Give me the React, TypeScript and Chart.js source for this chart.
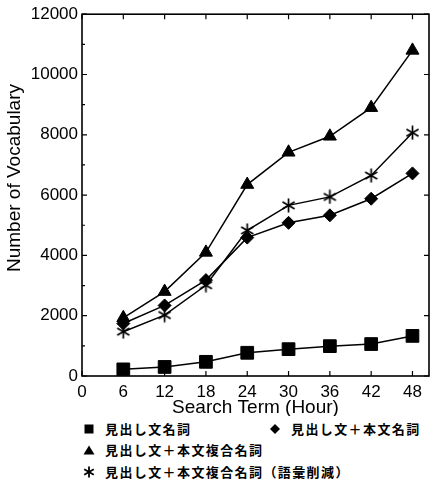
import React, { useEffect, useRef } from 'react';
import { Chart, registerables } from 'chart.js';
Chart.register(...registerables);

const hours = [6, 12, 18, 24, 30, 36, 42, 48];
const headNoun = [220, 300, 470, 770, 890, 990, 1060, 1330];
const headBodyNoun = [1740, 2340, 3180, 4590, 5080, 5330, 5880, 6720];
const headBodyCompound = [1930, 2800, 4100, 6350, 7420, 7950, 8900, 10800];
const headBodyCompoundReduced = [1470, 2020, 3010, 4830, 5660, 5940, 6650, 8070];
const seriesLabels = [
  '見出し文名詞',
  '見出し文＋本文名詞',
  '見出し文＋本文複合名詞',
  '見出し文＋本文複合名詞（語彙削減）',
];
const xTicks = [0, 6, 12, 18, 24, 30, 36, 42, 48];
const yTicks = [0, 2000, 4000, 6000, 8000, 10000, 12000];
const yMinorTicks = [1000, 3000, 5000, 7000, 9000, 11000];
const xTitle = 'Search Term (Hour)';
const yTitle = 'Number of Vocabulary';

const FONT = "'Liberation Sans', Arial, sans-serif";

function makeStar(size: number): HTMLCanvasElement {
  const c = document.createElement('canvas');
  c.width = size;
  c.height = size;
  const ctx = c.getContext('2d')!;
  const r = size / 2 - 0.5;
  const cx = size / 2;
  const cy = size / 2;
  ctx.strokeStyle = '#000';
  ctx.lineWidth = 1.7;
  [90, 30, 150].forEach((deg) => {
    const a = (deg * Math.PI) / 180;
    ctx.beginPath();
    ctx.moveTo(cx - Math.cos(a) * r, cy - Math.sin(a) * r);
    ctx.lineTo(cx + Math.cos(a) * r, cy + Math.sin(a) * r);
    ctx.stroke();
  });
  return c;
}

const toPoints = (vals: number[]) => hours.map((h, i) => ({ x: h, y: vals[i] }));

export default function App() {
  const ref = useRef<HTMLCanvasElement>(null);
  useEffect(() => {
    const star = makeStar(15);
    const framePlugin = {
      id: 'frame',
      afterDraw(chart: any) {
        const { ctx, chartArea } = chart;
        const { left, right, top, bottom } = chartArea;
        const xs = chart.scales.x;
        const ys = chart.scales.y;
        ctx.save();
        ctx.strokeStyle = '#000';
        ctx.lineWidth = 1.6;
        ctx.strokeRect(left, top, right - left, bottom - top);
        ctx.lineWidth = 1.2;
        ctx.beginPath();
        xTicks.forEach((v) => {
          const px = xs.getPixelForValue(v);
          ctx.moveTo(px, bottom);
          ctx.lineTo(px, bottom - 5);
          ctx.moveTo(px, top);
          ctx.lineTo(px, top + 5);
        });
        yTicks.forEach((v) => {
          const py = ys.getPixelForValue(v);
          ctx.moveTo(left, py);
          ctx.lineTo(left + 5, py);
          ctx.moveTo(right, py);
          ctx.lineTo(right - 5, py);
        });
        yMinorTicks.forEach((v) => {
          const py = ys.getPixelForValue(v);
          ctx.moveTo(left, py);
          ctx.lineTo(left + 3, py);
        });
        ctx.stroke();
        ctx.fillStyle = '#000';
        ctx.textAlign = 'center';
        ctx.textBaseline = 'alphabetic';
        ctx.font = `17px ${FONT}`;
        xTicks.forEach((v) => {
          ctx.fillText(String(v), xs.getPixelForValue(v), 397);
        });
        ctx.font = `19px ${FONT}`;
        ctx.fillText(xTitle, (left + right) / 2, 413);
        ctx.textBaseline = 'middle';
        ctx.translate(15, 178);
        ctx.rotate(-Math.PI / 2);
        ctx.fillText(yTitle, 0, 0);
        ctx.restore();
      },
    };
    const common = {
      borderColor: '#000',
      backgroundColor: '#000',
      pointBorderColor: '#000',
      pointBackgroundColor: '#000',
      borderWidth: 1.5,
      pointBorderWidth: 1,
      tension: 0,
    };
    const chart = new Chart(ref.current!, {
      type: 'line',
      data: {
        datasets: [
          { ...common, label: seriesLabels[0], data: toPoints(headNoun), pointStyle: 'rect', pointRadius: 9 },
          { ...common, label: seriesLabels[1], data: toPoints(headBodyNoun), pointStyle: 'rectRot', pointRadius: 6.5 },
          { ...common, label: seriesLabels[2], data: toPoints(headBodyCompound), pointStyle: 'triangle', pointRadius: 7.5 },
          { ...common, label: seriesLabels[3], data: toPoints(headBodyCompoundReduced), pointStyle: star as any, pointRadius: 7 },
        ],
      },
      options: {
        animation: false,
        responsive: false,
        events: [],
        layout: { padding: { top: 13, right: 1, left: 0, bottom: 0 } },
        plugins: { legend: { display: false }, tooltip: { enabled: false }, title: { display: false } },
        scales: {
          x: {
            type: 'linear',
            min: 0,
            max: 50.4,
            grid: { display: false, drawTicks: false },
            border: { display: false },
            ticks: { display: false },
            afterBuildTicks: (s: any) => {
              s.ticks = xTicks.map((v) => ({ value: v }));
            },
            afterFit: (s: any) => {
              s.height = 40;
            },
          },
          y: {
            type: 'linear',
            min: 0,
            max: 12000,
            grid: { display: false, drawTicks: false },
            border: { display: false },
            ticks: {
              color: '#000',
              font: { family: FONT, size: 17 },
              padding: 4,
              callback: (v: any) => String(v),
            },
            afterBuildTicks: (s: any) => {
              s.ticks = yTicks.map((v) => ({ value: v }));
            },
            afterFit: (s: any) => {
              s.width = 82;
            },
          },
        },
      } as any,
      plugins: [framePlugin],
    });
    return () => chart.destroy();
  }, []);

  const textStyle: React.CSSProperties = {
    position: 'absolute',
    fontFamily: "'Noto Sans CJK JP', sans-serif",
    fontSize: 13,
    fontWeight: 'bold',
    letterSpacing: '1.4px',
    lineHeight: '18px',
    whiteSpace: 'nowrap',
    color: '#000',
  };
  const icon = (kind: string, cx: number, cy: number) => {
    const s = 12;
    let shape: React.ReactNode = null;
    if (kind === 'square') shape = <rect x={1.5} y={1.5} width={9} height={9} fill="#000" />;
    if (kind === 'diamond') shape = <polygon points="6,1 11,6 6,11 1,6" fill="#000" />;
    if (kind === 'triangle') shape = <polygon points="6,1.5 11.5,10.5 0.5,10.5" fill="#000" />;
    if (kind === 'star')
      shape = (
        <g stroke="#000" strokeWidth={1.8}>
          <line x1={6} y1={0.5} x2={6} y2={11.5} />
          <line x1={1.2} y1={3.2} x2={10.8} y2={8.8} />
          <line x1={1.2} y1={8.8} x2={10.8} y2={3.2} />
        </g>
      );
    return (
      <svg width={s} height={s} style={{ position: 'absolute', left: cx - s / 2, top: cy - s / 2 }}>
        {shape}
      </svg>
    );
  };
  const rows = [429, 450, 472];

  return (
    <div style={{ position: 'absolute', left: 0, top: 0, width: 439, height: 480, background: '#fff' }}>
      <canvas ref={ref} width={439} height={416} style={{ display: 'block', width: 439, height: 416 }} />
      {icon('square', 89, rows[0])}
      <div style={{ ...textStyle, left: 105, top: rows[0] - 9 }}>{seriesLabels[0]}</div>
      {icon('diamond', 275, rows[0])}
      <div style={{ ...textStyle, left: 291, top: rows[0] - 9 }}>{seriesLabels[1]}</div>
      {icon('triangle', 89, rows[1])}
      <div style={{ ...textStyle, left: 105, top: rows[1] - 9 }}>{seriesLabels[2]}</div>
      {icon('star', 89, rows[2])}
      <div style={{ ...textStyle, left: 105, top: rows[2] - 9 }}>{seriesLabels[3]}</div>
    </div>
  );
}
